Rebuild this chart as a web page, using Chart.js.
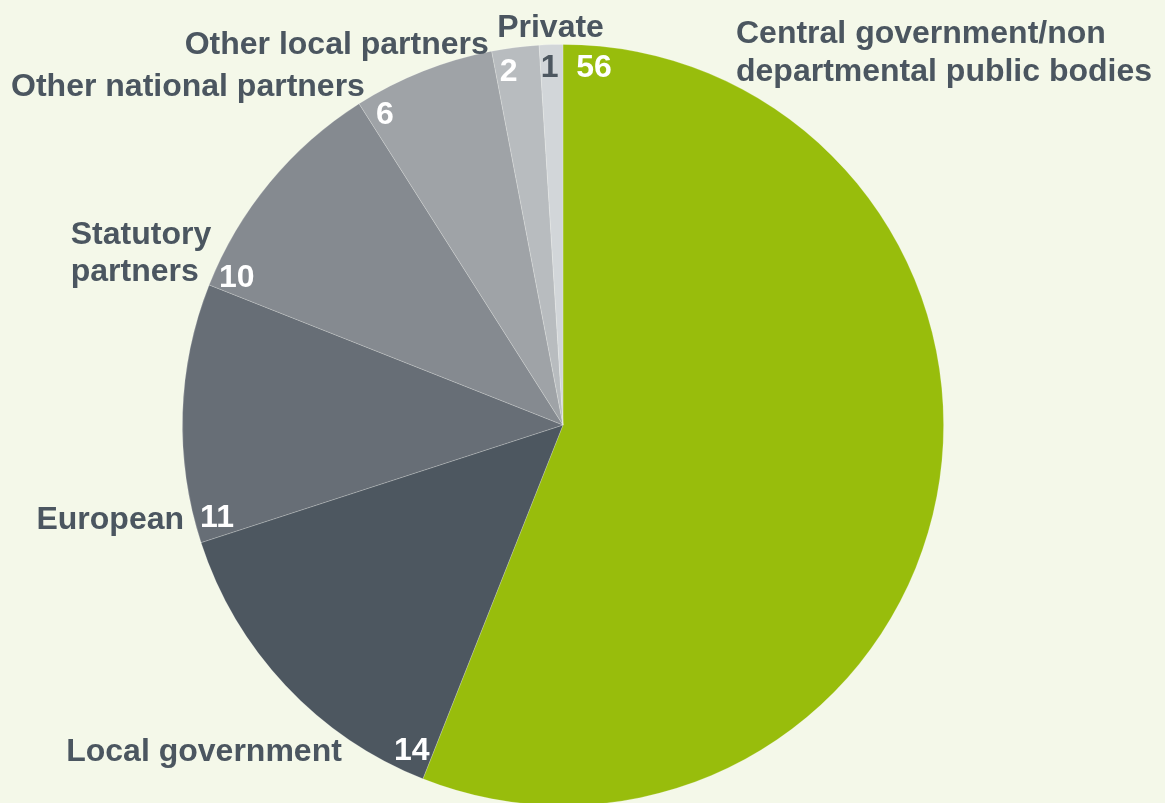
<!DOCTYPE html>
<html>
<head>
<meta charset="utf-8">
<script src="https://cdn.jsdelivr.net/npm/chart.js@4.4.1/dist/chart.umd.min.js"></script>
<style>
  html, body { margin: 0; padding: 0; background: #f4f8e9; overflow: hidden; }
  #wrap { width: 1165px; height: 803px; overflow: hidden; }
</style>
</head>
<body>
<div id="wrap"><canvas id="fundingPie" width="1165" height="850"></canvas></div>
<script>
// funding sources (%), clockwise from 12 o'clock
const categories = [
  ['Central government/non', 'departmental public bodies'],
  ['Local government'],
  ['European'],
  ['Statutory', 'partners'],
  ['Other national partners'],
  ['Other local partners'],
  ['Private']
]
const shares = [56, 14, 11, 10, 6, 2, 1]
const sliceColors = ['#98bd0c', '#4d5760', '#676e76', '#858a90', '#9fa3a7', '#b8bcbf', '#d2d6d9']

// label placement relative to the start edge of each slice
const valueOffset = [31, 21, 19, 17, 16, 13, 9]
const valueColor = ['#fff', '#fff', '#fff', '#fff', '#fff', '#fff', '#4d5760']
const nameLayout = [
  { align: 'left', dx: 142, dy: [-24, 14] },
  { align: 'right', dx: -70, dy: [11.5] },
  { align: 'right', dx: -33, dy: [11.5] },
  { align: 'left', dx: -166, dy: [-33.5, 3.5] },
  { align: 'right', dx: -20, dy: [-18.5] },
  { align: 'right', dx: -20, dy: [-17.5] },
  { align: 'center', dx: 1, dy: [-30.5] }
]

const sliceLabels = {
  id: 'sliceLabels',
  afterDatasetsDraw(chart) {
    const ctx = chart.ctx
    const arcs = chart.getDatasetMeta(0).data
    ctx.save()
    ctx.font = 'bold 32px "Liberation Sans", Arial, sans-serif'
    arcs.forEach((arc, i) => {
      const a = arc.startAngle
      const r = arc.outerRadius - 23
      const px = arc.x + r * Math.cos(a)
      const py = arc.y + r * Math.sin(a)
      // step into the slice, perpendicular to its start edge
      const cx = px - Math.sin(a) * valueOffset[i]
      const cy = py + Math.cos(a) * valueOffset[i]
      ctx.textAlign = 'center'
      ctx.textBaseline = 'middle'
      ctx.fillStyle = valueColor[i]
      ctx.fillText(String(shares[i]), cx, cy + 1)

      const lay = nameLayout[i]
      ctx.textAlign = lay.align
      ctx.textBaseline = 'alphabetic'
      ctx.fillStyle = '#4b5660'
      categories[i].forEach((line, j) => {
        ctx.fillText(line, cx + lay.dx, cy + lay.dy[j])
      })
    })
    ctx.restore()
  }
}

new Chart(document.getElementById('fundingPie'), {
  type: 'pie',
  data: {
    labels: categories.map(c => c.join(' ')),
    datasets: [
      {
        data: shares,
        backgroundColor: sliceColors,
        borderColor: 'rgba(255,255,255,0.25)',
        borderWidth: 0.8,
      },
    ],
  },
  options: {
    responsive: false,
    animation: false,
    events: [],
    layout: { padding: { left: 182, right: 221, top: 44, bottom: 44 } },
    plugins: { legend: { display: false }, tooltip: { enabled: false } },
  },
  plugins: [sliceLabels],
})
</script>
</body>
</html>
